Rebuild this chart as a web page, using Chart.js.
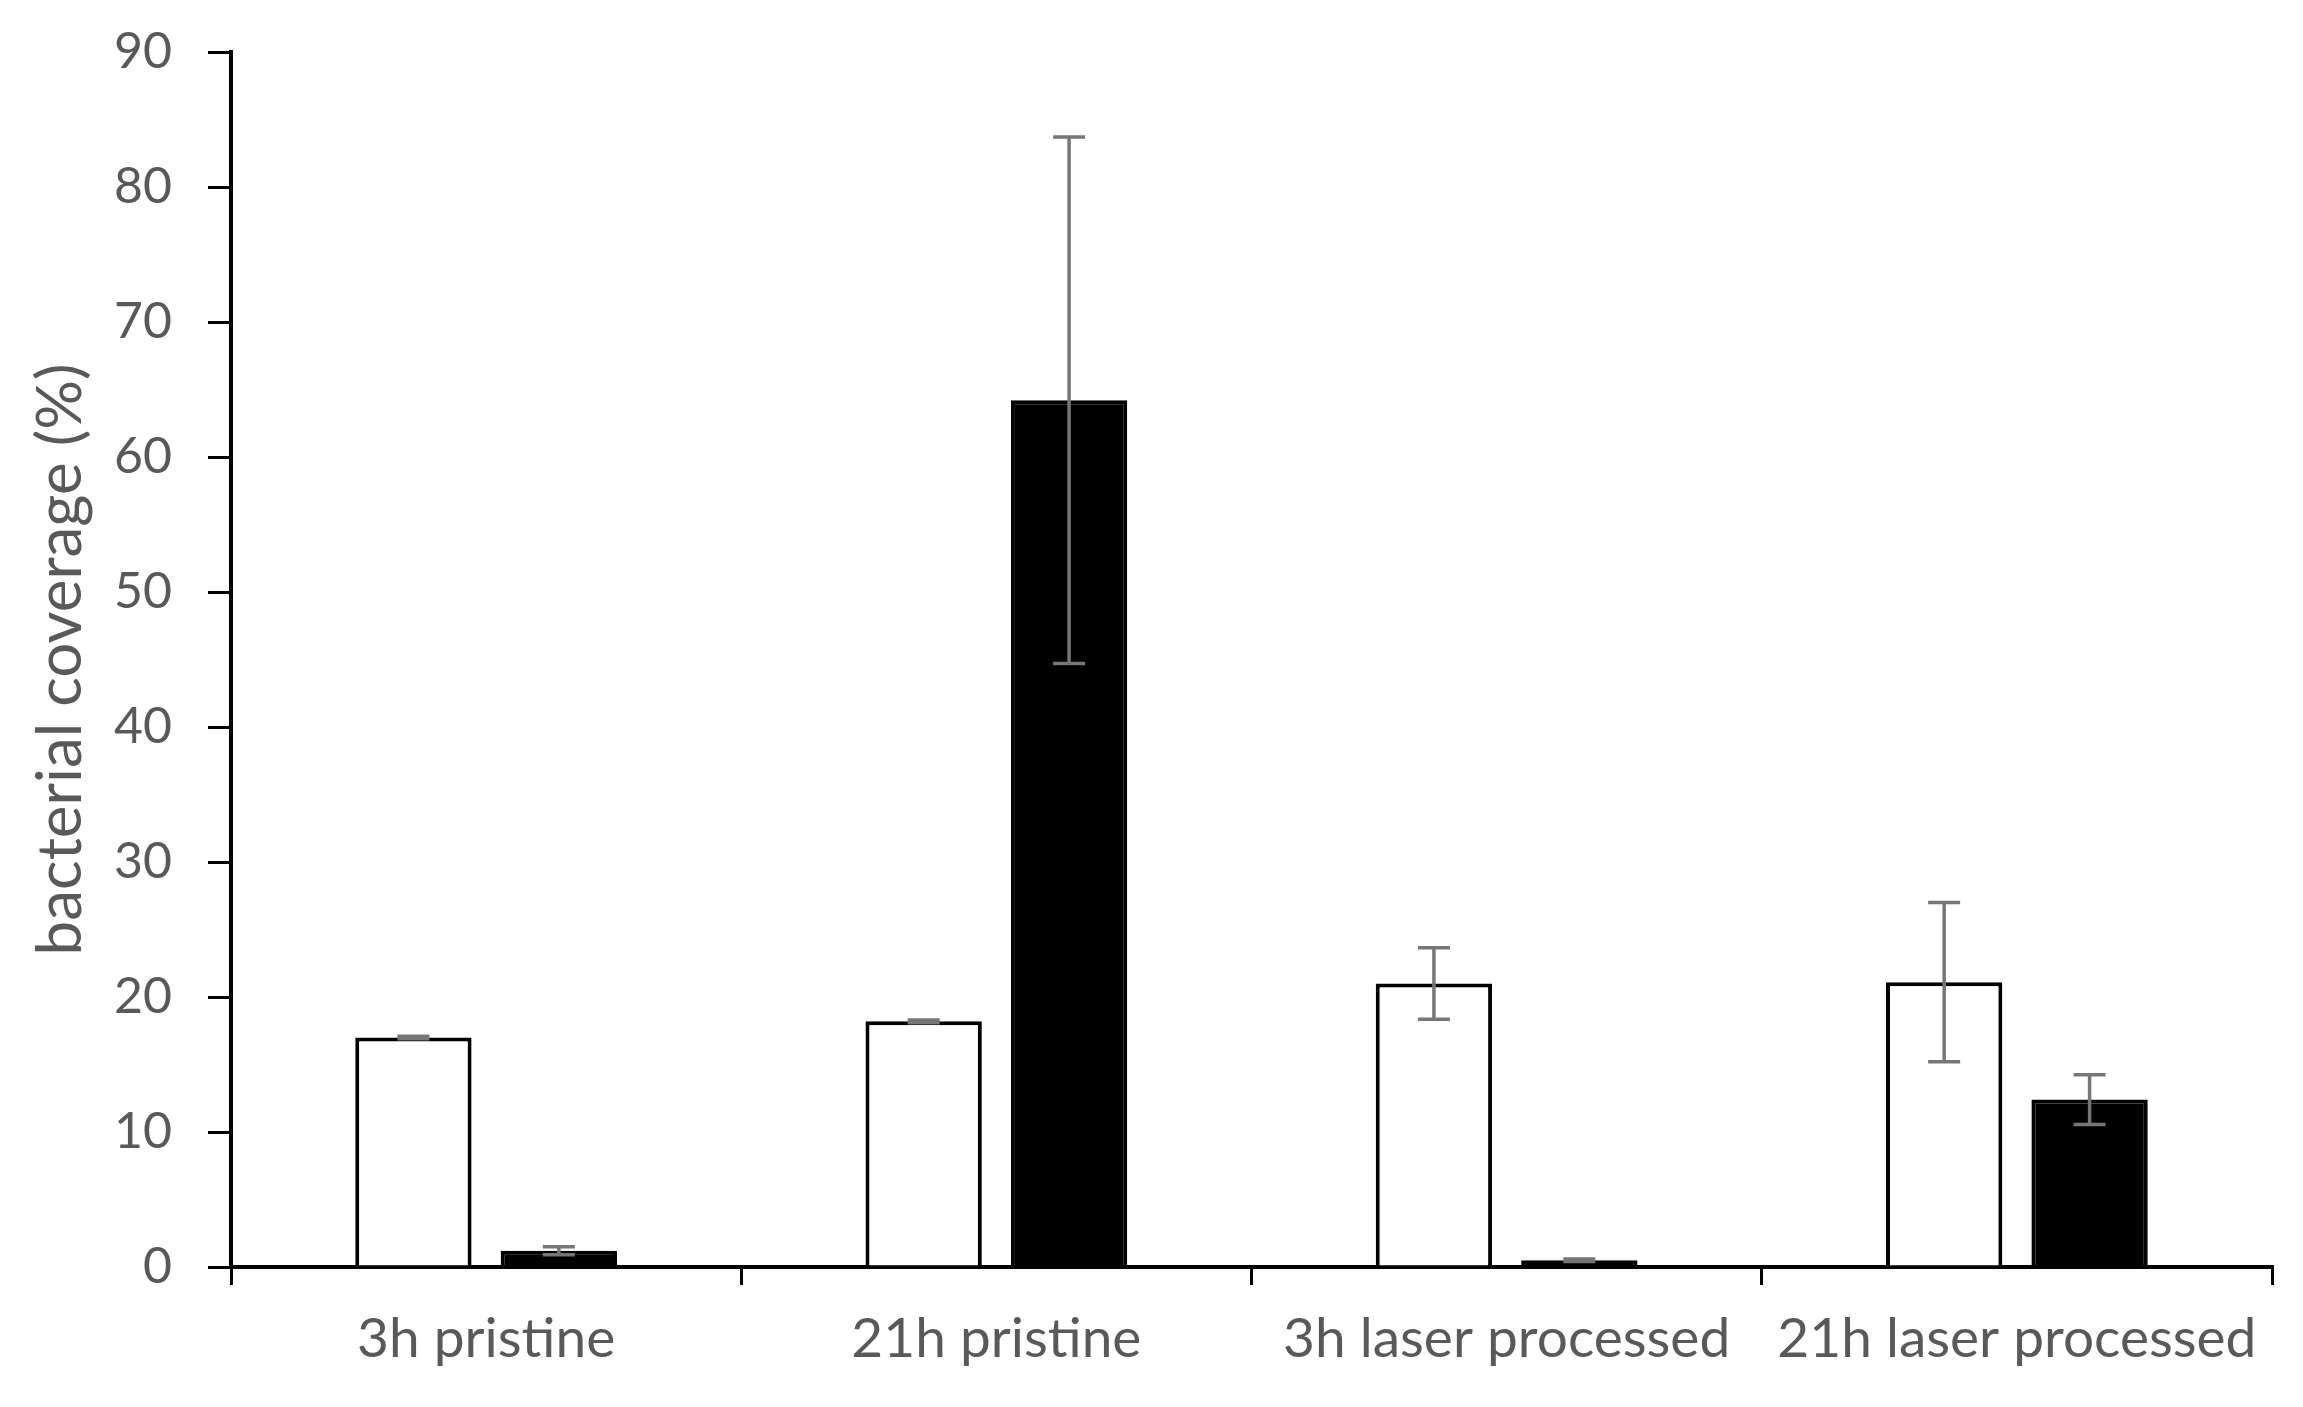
<!DOCTYPE html>
<html>
<head>
<meta charset="utf-8">
<script src="https://cdn.jsdelivr.net/npm/chart.js@4.4.0/dist/chart.umd.min.js"></script>
<style>
  html, body { margin: 0; padding: 0; background: #fff; }
  canvas { display: block; }
</style>
</head>
<body>
<canvas id="myChart" width="2303" height="1407"></canvas>
<script>
// values (bacterial coverage, %)
const categories = ['3h pristine', '21h pristine', '3h laser processed', '21h laser processed']
const whiteValues = [17.0, 18.2, 21.0, 21.1]
const whiteErrors = [0.1, 0.1, 2.65, 5.9]
const blackValues = [1.2, 64.2, 0.5, 12.4]
const blackErrors = [0.3, 19.5, 0.1, 1.85]
const yTicks = [0, 10, 20, 30, 40, 50, 60, 70, 80, 90]

const labelGray = '#595959'

// draws the gray error bars on top of every bar
const errorBars = {
    id: 'errorBars',
    afterDatasetsDraw(chart) {
        const ctx = chart.ctx
        const yScale = chart.scales.y
        ctx.save()
        ctx.strokeStyle = '#767676'
        ctx.lineWidth = 3.5
        chart.data.datasets.forEach((ds, i) => {
            const meta = chart.getDatasetMeta(i)
            meta.data.forEach((bar, j) => {
                const v = ds.data[j]
                const e = ds.errors[j]
                const x = bar.x
                const yTop = yScale.getPixelForValue(v + e)
                const yBot = yScale.getPixelForValue(Math.max(0, v - e))
                const cap = 16
                ctx.beginPath()
                ctx.moveTo(x, yTop)
                ctx.lineTo(x, yBot)
                ctx.moveTo(x - cap, yTop)
                ctx.lineTo(x + cap, yTop)
                ctx.moveTo(x - cap, yBot)
                ctx.lineTo(x + cap, yBot)
                ctx.stroke()
            })
        })
        ctx.restore()
    }
}

const ctx = document.getElementById('myChart')
const myChart = new Chart(ctx, {
    type: 'bar',
    data: {
        labels: categories,
        datasets: [{
            label: 'white',
            data: whiteValues,
            errors: whiteErrors,
            backgroundColor: '#ffffff',
            borderColor: '#000000',
            borderWidth: 4,
            categoryPercentage: 0.57,
            barPercentage: 0.8
        },
        {
            label: 'black',
            data: blackValues,
            errors: blackErrors,
            backgroundColor: '#000000',
            borderColor: '#000000',
            borderWidth: 4,
            categoryPercentage: 0.57,
            barPercentage: 0.8
        }]
    },
    options: {
        responsive: false,
        animation: false,
        layout: {
            padding: { top: 52, right: 31, bottom: 0, left: 0 }
        },
        plugins: {
            legend: { display: false },
            tooltip: { enabled: false }
        },
        scales: {
            x: {
                grid: {
                    drawOnChartArea: false,
                    color: '#000000',
                    lineWidth: 3,
                    tickLength: 18
                },
                border: { color: '#000000', width: 4 },
                ticks: {
                    color: labelGray,
                    padding: 21,
                    maxRotation: 0,
                    font: { family: 'Lato', size: 55 }
                },
                afterFit: (scale) => { scale.height = 140 }
            },
            y: {
                min: 0,
                max: 90,
                afterBuildTicks: (scale) => {
                    scale.ticks = yTicks.map(v => ({ value: v }))
                },
                grid: {
                    drawOnChartArea: false,
                    color: '#000000',
                    lineWidth: 3,
                    tickLength: 23
                },
                border: { color: '#000000', width: 4 },
                ticks: {
                    color: labelGray,
                    padding: 36,
                    font: { family: 'Lato', size: 50 }
                },
                title: {
                    display: true,
                    text: 'bacterial coverage (%)',
                    color: labelGray,
                    padding: { top: 24, bottom: 0 },
                    font: { family: 'Lato', size: 62 }
                },
                afterFit: (scale) => {
                    scale.width = 231
                    scale.paddingTop = 0
                    scale.paddingBottom = 0
                }
            }
        }
    },
    plugins: [errorBars]
})
</script>
</body>
</html>
